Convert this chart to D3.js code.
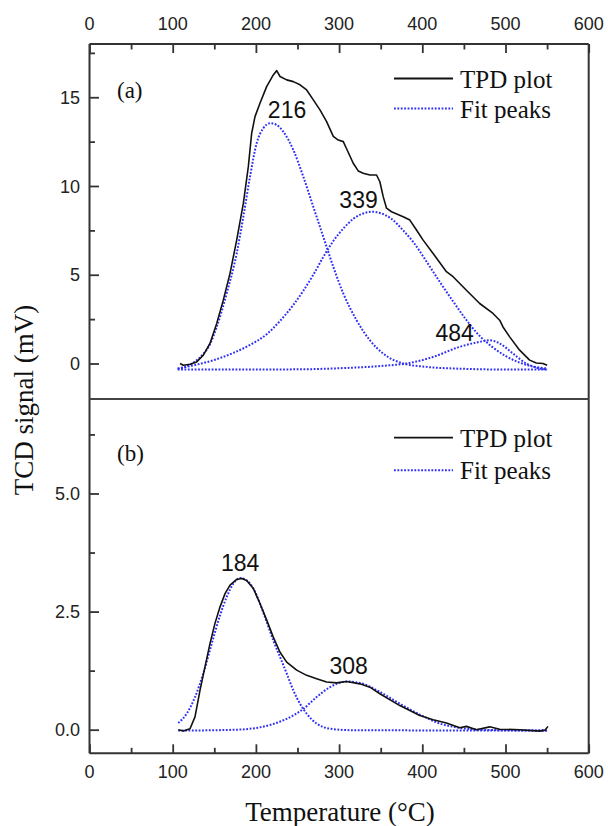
<!DOCTYPE html>
<html>
<head>
<meta charset="utf-8">
<script src="https://cdn.jsdelivr.net/npm/d3@7/dist/d3.min.js"></script>
<style>
  html, body { margin: 0; padding: 0; background: #fff; }
  svg { display: block; }
</style>
</head>
<body>
<svg id="chart" width="608" height="826"></svg>
<script>
// ---- Data: temperature (°C) / TCD signal (mV) ----
const tpdA = [[108.8,0],[112.8,-0.1],[120.8,-0.04],[128.8,0.09],[136.8,0.47],[144.8,1.13],[152.9,2.26],[160.8,3.57],[168.9,5.08],[176.9,6.95],[184.9,9.02],[190.9,11.09],[194.9,12.97],[198.9,13.91],[204.9,14.66],[212.9,15.6],[220.9,16.26],[225,16.5],[229,16.17],[237,15.98],[245,15.88],[253,15.7],[261,15.41],[269,14.85],[277,14.29],[285,13.63],[293,12.8],[299,12.59],[305,12.5],[309,12.1],[317,11.28],[323,10.85],[329,10.72],[337,10.62],[345,10.62],[349,10.24],[353,9.4],[357,8.75],[363,8.55],[377,8.27],[385,8.08],[393,7.52],[401,6.95],[413,6.2],[429,5.17],[437,4.89],[453,4.13],[469,3.38],[485,2.82],[493,2.44],[497,2.06],[505,1.5],[517,0.75],[529,0.19],[537,0.03],[545,0],[550,-0.1]];
const fitA1 = [[106,-0.3],[115,-0.2],[125,0.05],[135,0.45],[145,1.1],[152.9,2.06],[164.9,3.95],[176.9,6.2],[184.9,8.27],[192.9,10.52],[200.9,12.41],[208.9,13.25],[217,13.54],[225,13.44],[232.9,13.06],[245,12.03],[257,10.52],[269,8.83],[281,7.14],[293,5.45],[305,3.95],[321,2.44],[337,1.31],[353,0.56],[377,0],[405,-0.19],[450,-0.3],[500,-0.34],[550,-0.34]];
const fitA2 = [[106,-0.28],[130,-0.05],[150,0.2],[173,0.6],[193,1.05],[213,1.65],[229,2.4],[245,3.3],[257,4.1],[269,5.0],[281,6.0],[293,6.9],[305,7.6],[317,8.15],[329,8.45],[339,8.55],[351,8.45],[363,8.15],[377,7.5],[389,6.85],[405,5.75],[421,4.6],[437,3.5],[453,2.45],[469,1.55],[485,0.9],[501,0.4],[517,0.05],[533,-0.17],[550,-0.28]];
const fitA3 = [[106,-0.34],[250,-0.33],[293,-0.28],[353,-0.13],[381,0],[413,0.37],[445,0.94],[469,1.22],[481,1.31],[493,1.13],[509,0.56],[525,0],[541,-0.28],[550,-0.34]];

const tpdB = [[106.7,0],[112.8,-0.03],[120.8,0.02],[126.8,0.27],[132.8,0.83],[138.8,1.33],[144.8,1.82],[150.8,2.25],[156.9,2.6],[162.9,2.88],[168.9,3.06],[176.9,3.18],[182.9,3.2],[188.9,3.16],[196.9,2.99],[204.9,2.67],[213,2.32],[220.9,1.96],[229,1.64],[237,1.43],[249,1.26],[261,1.15],[273,1.08],[285,1.01],[297,0.99],[309,1.02],[325,0.97],[337,0.9],[349,0.76],[373,0.51],[397,0.3],[413,0.21],[429,0.14],[445,0.04],[453,0.07],[465,0],[481,0.06],[493,0.01],[517,0],[541,-0.03],[547.5,-0.01],[551,0.07]];
const fitB1 = [[106.7,0.14],[116.8,0.34],[126.8,0.69],[136.8,1.19],[146.9,1.82],[156.9,2.42],[164.9,2.81],[172.8,3.09],[180.9,3.21],[188.9,3.16],[196.9,2.99],[204.9,2.67],[213,2.28],[220.9,1.89],[229,1.54],[237,1.19],[245,0.83],[253,0.55],[261,0.34],[273,0.13],[289,0.02],[313,-0.01],[550,-0.02]];
const fitB2 = [[106.7,-0.02],[177,0],[217,0.1],[237,0.23],[257,0.44],[273,0.69],[289,0.9],[309,1.02],[325,0.99],[349,0.8],[373,0.55],[397,0.32],[421,0.13],[445,0.04],[469,0],[493,-0.01],[550,-0.02]];

// Peak maxima annotated with their temperatures
const peaksA = [{t:217, v:13.54, label:"216"},{t:339, v:8.55, label:"339"},{t:481, v:1.31, label:"484"}];
const peaksB = [{t:181, v:3.21, label:"184"},{t:309, v:1.02, label:"308"}];

const xTicks = [0,100,200,300,400,500,600];
const yTicksA = [0,5,10,15];
const yTicksB = [0,2.5,5];
const legendLabels = ["TPD plot","Fit peaks"];

// ---- Layout ----
const svg = d3.select("#chart");
const L = 89.5, R = 588.7, T = 44, MID = 399, B = 753.3;
const x = d3.scaleLinear().domain([0,600]).range([L,R]);
const yA = d3.scaleLinear().domain([-2,18]).range([MID,T]);
const yB = d3.scaleLinear().domain([-0.5,7]).range([B,MID]);

const axisColor = "#333";
const sans = "'Liberation Sans', Arial, sans-serif";
const serif = "'Liberation Serif', 'Times New Roman', serif";
const blue = "#2f2ff5";

const defs = svg.append("defs");
defs.append("clipPath").attr("id","clipA").append("rect").attr("x",L).attr("y",T).attr("width",R-L).attr("height",MID-T);
defs.append("clipPath").attr("id","clipB").append("rect").attr("x",L).attr("y",MID).attr("width",R-L).attr("height",B-MID);

function drawPanel(y, clip, tpd, fits) {
  const line = d3.line().x(d => x(d[0])).y(d => y(d[1]));
  const smooth = d3.line().x(d => x(d[0])).y(d => y(d[1])).curve(d3.curveMonotoneX);
  const g = svg.append("g").attr("clip-path", `url(#${clip})`);
  fits.forEach(f => {
    g.append("path").attr("d", smooth(f)).attr("fill","none")
      .attr("stroke", blue).attr("stroke-width", 2).attr("stroke-dasharray","1.8,1.6");
  });
  g.append("path").attr("d", line(tpd)).attr("fill","none")
    .attr("stroke","#111").attr("stroke-width",1.6).attr("stroke-linejoin","round");
}
drawPanel(yA, "clipA", tpdA, [fitA1, fitA2, fitA3]);
drawPanel(yB, "clipB", tpdB, [fitB1, fitB2]);

// ---- Axes (ticks point inward) ----
function styleTicks(sel, majorSet, dir, majorLen, minorLen, isX) {
  sel.selectAll(".tick line").each(function(d) {
    const len = majorSet.includes(d) ? majorLen : minorLen;
    if (isX) d3.select(this).attr("x2",0).attr("y2", dir*len);
    else d3.select(this).attr("y2",0).attr("x2", dir*len);
  }).attr("stroke", axisColor).attr("stroke-width", 1.8);
  sel.select(".domain").remove();
}

const gTop = svg.append("g").attr("transform",`translate(0,${T})`).call(d3.axisTop(x).tickValues(d3.range(0,601,50)).tickFormat(""));
styleTicks(gTop, xTicks, 1, 9, 5.5, true);
const gBot = svg.append("g").attr("transform",`translate(0,${B})`).call(d3.axisBottom(x).tickValues(d3.range(0,601,50)).tickFormat(""));
styleTicks(gBot, xTicks, -1, 9, 5.5, true);

const gLA = svg.append("g").attr("transform",`translate(${L},0)`).call(d3.axisLeft(yA).tickValues([0,2.5,5,7.5,10,12.5,15,17.5]).tickFormat(""));
styleTicks(gLA, yTicksA, 1, 9.5, 5.5, false);
const gLB = svg.append("g").attr("transform",`translate(${L},0)`).call(d3.axisLeft(yB).tickValues([0,1.25,2.5,3.75,5,6.25]).tickFormat(""));
styleTicks(gLB, yTicksB, 1, 9.5, 5.5, false);

// Tick labels
svg.append("g").selectAll("text").data(xTicks).join("text")
  .attr("x", d => x(d)).attr("y", 30).attr("text-anchor","middle")
  .attr("font-family", sans).attr("font-size", 18).attr("fill","#222").text(d => d);
svg.append("g").selectAll("text").data(xTicks).join("text")
  .attr("x", d => x(d)).attr("y", 778).attr("text-anchor","middle")
  .attr("font-family", sans).attr("font-size", 18).attr("fill","#222").text(d => d);
svg.append("g").selectAll("text").data(yTicksA).join("text")
  .attr("x", 80).attr("y", d => yA(d) + 6.5).attr("text-anchor","end")
  .attr("font-family", sans).attr("font-size", 18).attr("fill","#222").text(d => d);
svg.append("g").selectAll("text").data(yTicksB).join("text")
  .attr("x", 80).attr("y", d => yB(d) + 6.5).attr("text-anchor","end")
  .attr("font-family", sans).attr("font-size", 18).attr("fill","#222").text(d => d3.format(".1f")(d));

// Frame: left, right, top, bottom and the panel divider
const frame = svg.append("g").attr("stroke", axisColor).attr("stroke-width", 2).attr("fill","none");
frame.append("line").attr("x1",L).attr("x2",L).attr("y1",T).attr("y2",B);
frame.append("line").attr("x1",R).attr("x2",R).attr("y1",T).attr("y2",B);
frame.append("line").attr("x1",L).attr("x2",R).attr("y1",T).attr("y2",T);
frame.append("line").attr("x1",L).attr("x2",R).attr("y1",B).attr("y2",B);
frame.append("line").attr("x1",L).attr("x2",R).attr("y1",MID).attr("y2",MID).attr("stroke","#444");

// Peak labels
const offA = [[17,-5],[-13,-4],[-35,1]];
const offB = [[0,-7],[2,-7]];
svg.append("g").selectAll("text").data(peaksA).join("text")
  .attr("x", (d,i) => x(d.t) + offA[i][0]).attr("y", (d,i) => yA(d.v) + offA[i][1])
  .attr("text-anchor","middle").attr("font-family", sans).attr("font-size", 23).attr("fill","#111").text(d => d.label);
svg.append("g").selectAll("text").data(peaksB).join("text")
  .attr("x", (d,i) => x(d.t) + offB[i][0]).attr("y", (d,i) => yB(d.v) + offB[i][1])
  .attr("text-anchor","middle").attr("font-family", sans).attr("font-size", 23).attr("fill","#111").text(d => d.label);

// Panel tags
svg.append("text").attr("x",117).attr("y",98).attr("font-family",serif).attr("font-size",23).attr("fill","#111").text("(a)");
svg.append("text").attr("x",117).attr("y",461).attr("font-family",serif).attr("font-size",23).attr("fill","#111").text("(b)");

// Legends
function legend(y1, y2) {
  const g = svg.append("g");
  g.append("line").attr("x1",394).attr("x2",453).attr("y1",y1).attr("y2",y1).attr("stroke","#111").attr("stroke-width",1.8);
  g.append("line").attr("x1",394).attr("x2",453).attr("y1",y2).attr("y2",y2).attr("stroke",blue).attr("stroke-width",2).attr("stroke-dasharray","1.8,1.6");
  g.selectAll("text").data(legendLabels).join("text")
    .attr("x",460).attr("y",(d,i) => (i ? y2 : y1) + 9)
    .attr("font-family",serif).attr("font-size",25).attr("fill","#111").text(d => d);
}
legend(78.5, 108.5);
legend(437.7, 470.3);

// Axis titles
svg.append("text").attr("x",340).attr("y",821).attr("text-anchor","middle")
  .attr("font-family",serif).attr("font-size",27).attr("fill","#111").text("Temperature (°C)");
svg.append("text").attr("transform","translate(33,400) rotate(-90)").attr("text-anchor","middle")
  .attr("font-family",serif).attr("font-size",27).attr("fill","#111").text("TCD signal (mV)");
</script>
</body>
</html>
